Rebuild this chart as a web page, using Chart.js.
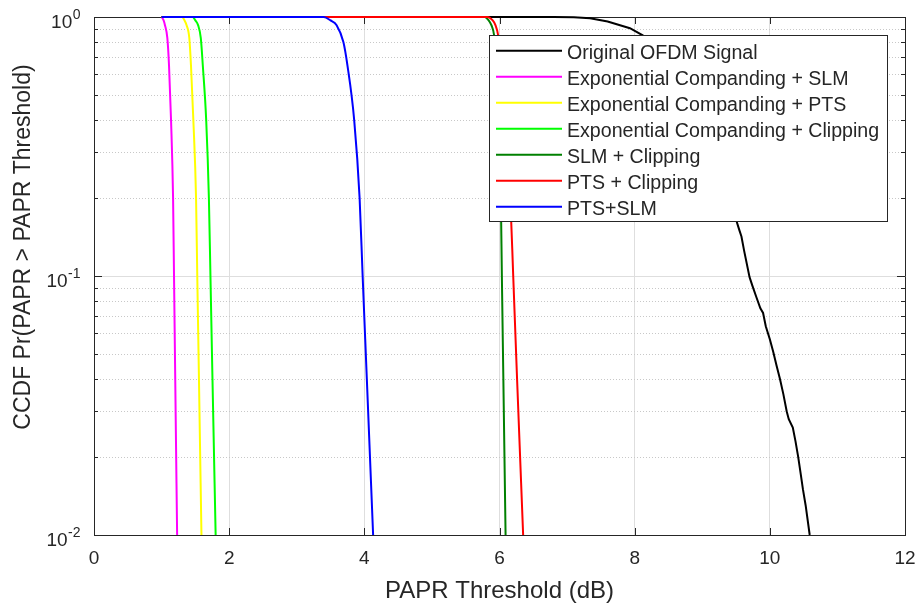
<!DOCTYPE html>
<html>
<head>
<meta charset="utf-8">
<script src="https://cdn.jsdelivr.net/npm/chart.js@4.4.1/dist/chart.umd.min.js"></script>
<style>
  html, body { margin: 0; padding: 0; background: #ffffff; }
  #wrap { width: 922px; height: 608px; position: relative; }
</style>
</head>
<body>
<div id="wrap"><canvas id="ccdf" width="922" height="608"></canvas></div>
<script>
// Legend labels and colours, in legend order
const seriesNames = [
  'Original OFDM Signal',
  'Exponential Companding + SLM',
  'Exponential Companding + PTS',
  'Exponential Companding + Clipping',
  'SLM + Clipping',
  'PTS + Clipping',
  'PTS+SLM'
];
const seriesColors = ['#000000', '#ff00ff', '#ffff00', '#00ff00', '#008000', '#ff0000', '#0000ff'];

// CCDF curves: PAPR threshold (dB) and probability
const xOriginal = [1.0, 6.8, 7.1, 7.34, 7.6, 7.93, 8.12, 8.5, 8.9, 9.2, 9.4, 9.51, 9.55, 9.58, 9.62, 9.70, 9.74, 9.80, 9.86, 9.90, 9.94, 10.0, 10.05, 10.10, 10.15, 10.20, 10.25, 10.28, 10.34, 10.38, 10.42, 10.46, 10.49, 10.53, 10.59];
const yOriginal = [1.0, 1.0, 0.997, 0.988, 0.96, 0.905, 0.85, 0.70, 0.50, 0.33, 0.21, 0.162, 0.150, 0.142, 0.125, 0.099, 0.092, 0.083, 0.075, 0.072, 0.064, 0.057, 0.051, 0.045, 0.040, 0.035, 0.030, 0.028, 0.026, 0.023, 0.020, 0.017, 0.015, 0.013, 0.010];

const xExpSlm = [1.0, 1.03, 1.05, 1.085, 1.11, 1.14, 1.17, 1.184, 1.202, 1.23];
const yExpSlm = [1.0, 0.97, 0.93, 0.83, 0.65, 0.40, 0.20, 0.10, 0.04, 0.01];

const xExpPts = [1.0, 1.30, 1.34, 1.37, 1.41, 1.435, 1.47, 1.51, 1.528, 1.553, 1.59];
const yExpPts = [1.0, 1.0, 0.97, 0.93, 0.83, 0.65, 0.40, 0.20, 0.10, 0.04, 0.01];

const xExpClip = [1.0, 1.46, 1.50, 1.54, 1.58, 1.61, 1.66, 1.70, 1.723, 1.753, 1.80];
const yExpClip = [1.0, 1.0, 0.97, 0.93, 0.83, 0.65, 0.40, 0.20, 0.10, 0.04, 0.01];

const xSlmClip = [1.0, 5.78, 5.84, 5.88, 5.92, 5.97, 6.00, 6.02, 6.035, 6.057, 6.09];
const ySlmClip = [1.0, 1.0, 0.97, 0.93, 0.85, 0.60, 0.35, 0.20, 0.10, 0.04, 0.01];

const xPtsClip = [1.0, 5.82, 5.90, 5.94, 5.98, 6.06, 6.11, 6.16, 6.203, 6.26, 6.35];
const yPtsClip = [1.0, 1.0, 0.97, 0.93, 0.85, 0.55, 0.32, 0.20, 0.10, 0.04, 0.01];

const xPtsSlm = [1.0, 3.40, 3.50, 3.59, 3.69, 3.75, 3.85, 3.93, 3.975, 4.037, 4.13];
const yPtsSlm = [1.0, 1.0, 0.97, 0.93, 0.80, 0.65, 0.40, 0.20, 0.10, 0.04, 0.01];

// Axis ticks
const xTickValues = [0, 2, 4, 6, 8, 10, 12];
const yMajorValues = [0.01, 0.1, 1];
const yMinorValues = [0.02, 0.03, 0.04, 0.05, 0.06, 0.07, 0.08, 0.09, 0.2, 0.3, 0.4, 0.5, 0.6, 0.7, 0.8, 0.9];
const yTickExponents = ['-2', '-1', '0'];

const seriesX = [xOriginal, xExpSlm, xExpPts, xExpClip, xSlmClip, xPtsClip, xPtsSlm];
const seriesY = [yOriginal, yExpSlm, yExpPts, yExpClip, ySlmClip, yPtsClip, yPtsSlm];

const FONT = "'Liberation Sans', Arial, Helvetica, sans-serif";
const INK = '#262626';

const datasets = seriesNames.map((name, i) => ({
  label: name,
  data: seriesX[i].map((x, k) => ({ x: x, y: seriesY[i][k] })),
  borderColor: seriesColors[i],
  backgroundColor: seriesColors[i],
  borderWidth: 2,
  pointRadius: 0,
  fill: false,
  tension: 0,
  clip: 3,
  cubicInterpolationMode: i === 0 ? 'default' : 'monotone',
  order: seriesNames.length - 1 - i   // later series drawn on top
}));

// Frame, inward tick marks, dotted minor grid, y labels, y title and legend box
const framePlugin = {
  id: 'matlabFrame',
  beforeDatasetsDraw(chart) {
    const { ctx, chartArea: a, scales: { x, y } } = chart;
    const L = a.left, R = a.right, T = a.top, B = a.bottom;
    ctx.save();
    // dotted minor grid
    ctx.strokeStyle = '#c8c8c8';
    ctx.lineWidth = 1;
    ctx.setLineDash([1, 2]);
    yMinorValues.forEach(v => {
      const py = Math.round(y.getPixelForValue(v)) + 0.5;
      ctx.beginPath(); ctx.moveTo(L, py); ctx.lineTo(R, py); ctx.stroke();
    });
    ctx.setLineDash([]);
    // top and right border
    ctx.strokeStyle = INK;
    ctx.beginPath();
    ctx.moveTo(Math.round(L) + 0.5, Math.round(T) + 0.5);
    ctx.lineTo(Math.round(R) + 0.5, Math.round(T) + 0.5);
    ctx.lineTo(Math.round(R) + 0.5, Math.round(B) + 0.5);
    ctx.stroke();
    // x ticks (bottom and top)
    xTickValues.forEach(v => {
      const px = Math.round(x.getPixelForValue(v)) + 0.5;
      ctx.beginPath();
      ctx.moveTo(px, B); ctx.lineTo(px, B - 7);
      ctx.moveTo(px, T); ctx.lineTo(px, T + 7);
      ctx.stroke();
    });
    // y ticks (left and right)
    const yTicks = yMajorValues.map(v => [v, 8]).concat(yMinorValues.map(v => [v, 4]));
    yTicks.forEach(([v, len]) => {
      const py = Math.round(y.getPixelForValue(v)) + 0.5;
      ctx.beginPath();
      ctx.moveTo(L, py); ctx.lineTo(L + len, py);
      ctx.moveTo(R, py); ctx.lineTo(R - len, py);
      ctx.stroke();
    });
    ctx.restore();
  },
  afterDraw(chart) {
    const { ctx, scales: { y } } = chart;
    ctx.save();
    // y tick labels with superscript exponents
    ctx.fillStyle = INK;
    ctx.textBaseline = 'alphabetic';
    ctx.textAlign = 'left';
    yMajorValues.forEach((v, i) => {
      const py = y.getPixelForValue(v);
      ctx.font = '19px ' + FONT;
      const baseW = ctx.measureText('10').width;
      ctx.font = '14px ' + FONT;
      const expW = ctx.measureText(yTickExponents[i]).width;
      const x0 = 80 - baseW - expW;
      ctx.font = '19px ' + FONT;
      ctx.fillText('10', x0, py + 11);
      ctx.font = '14px ' + FONT;
      ctx.fillText(yTickExponents[i], x0 + baseW + 0.5, py + 1.5);
    });
    // y axis title
    ctx.font = '23px ' + FONT;
    ctx.textAlign = 'center';
    ctx.textBaseline = 'middle';
    ctx.translate(24, 247);
    ctx.rotate(-Math.PI / 2);
    ctx.fillText('CCDF Pr(PAPR > PAPR Threshold)', 0, 0);
    ctx.restore();

    // legend box
    ctx.save();
    const bx = 489.5, by = 35.5, bw = 398, bh = 186;
    ctx.fillStyle = '#ffffff';
    ctx.fillRect(bx, by, bw, bh);
    ctx.strokeStyle = INK;
    ctx.lineWidth = 1;
    ctx.strokeRect(bx, by, bw, bh);
    ctx.font = '19.6px ' + FONT;
    ctx.textAlign = 'left';
    ctx.textBaseline = 'alphabetic';
    seriesNames.forEach((name, i) => {
      const ly = 50.7 + 26 * i;
      ctx.strokeStyle = seriesColors[i];
      ctx.lineWidth = 2;
      ctx.beginPath(); ctx.moveTo(496, ly); ctx.lineTo(562, ly); ctx.stroke();
      ctx.fillStyle = INK;
      ctx.fillText(name, 567, 59 + 26 * i);
    });
    ctx.restore();
  }
};

Chart.defaults.font.family = FONT;
Chart.defaults.color = INK;

new Chart(document.getElementById('ccdf'), {
  type: 'line',
  data: { datasets: datasets },
  options: {
    responsive: false,
    devicePixelRatio: 1,
    animation: false,
    parsing: true,
    layout: { padding: { top: 17, right: 17, left: 0, bottom: 0 } },
    plugins: { legend: { display: false }, tooltip: { enabled: false } },
    scales: {
      x: {
        type: 'linear',
        min: 0, max: 12,
        afterBuildTicks: s => { s.ticks = xTickValues.map(v => ({ value: v })); },
        ticks: { font: { size: 19 }, padding: 12, color: INK, maxRotation: 0 },
        grid: { color: '#dedede', lineWidth: 1, drawTicks: false },
        border: { color: INK, width: 1 },
        title: { display: true, text: 'PAPR Threshold (dB)', font: { size: 24 }, color: INK, padding: { top: 0, bottom: 2 } },
        afterFit: s => { s.height = 73; s.paddingLeft = 0; s.paddingRight = 0; }
      },
      y: {
        type: 'logarithmic',
        min: 0.01, max: 1,
        afterBuildTicks: s => {
          s.ticks = yMajorValues.concat(yMinorValues).sort((a, b) => a - b)
            .map(v => ({ value: v, major: yMajorValues.includes(v) }));
        },
        ticks: { display: false },
        grid: {
          color: c => (c.tick && yMajorValues.includes(c.tick.value)) ? '#dedede' : 'rgba(0,0,0,0)',
          lineWidth: 1,
          drawTicks: false
        },
        border: { color: INK, width: 1 },
        afterFit: s => { s.width = 94; }
      }
    }
  },
  plugins: [framePlugin]
});
</script>
</body>
</html>
